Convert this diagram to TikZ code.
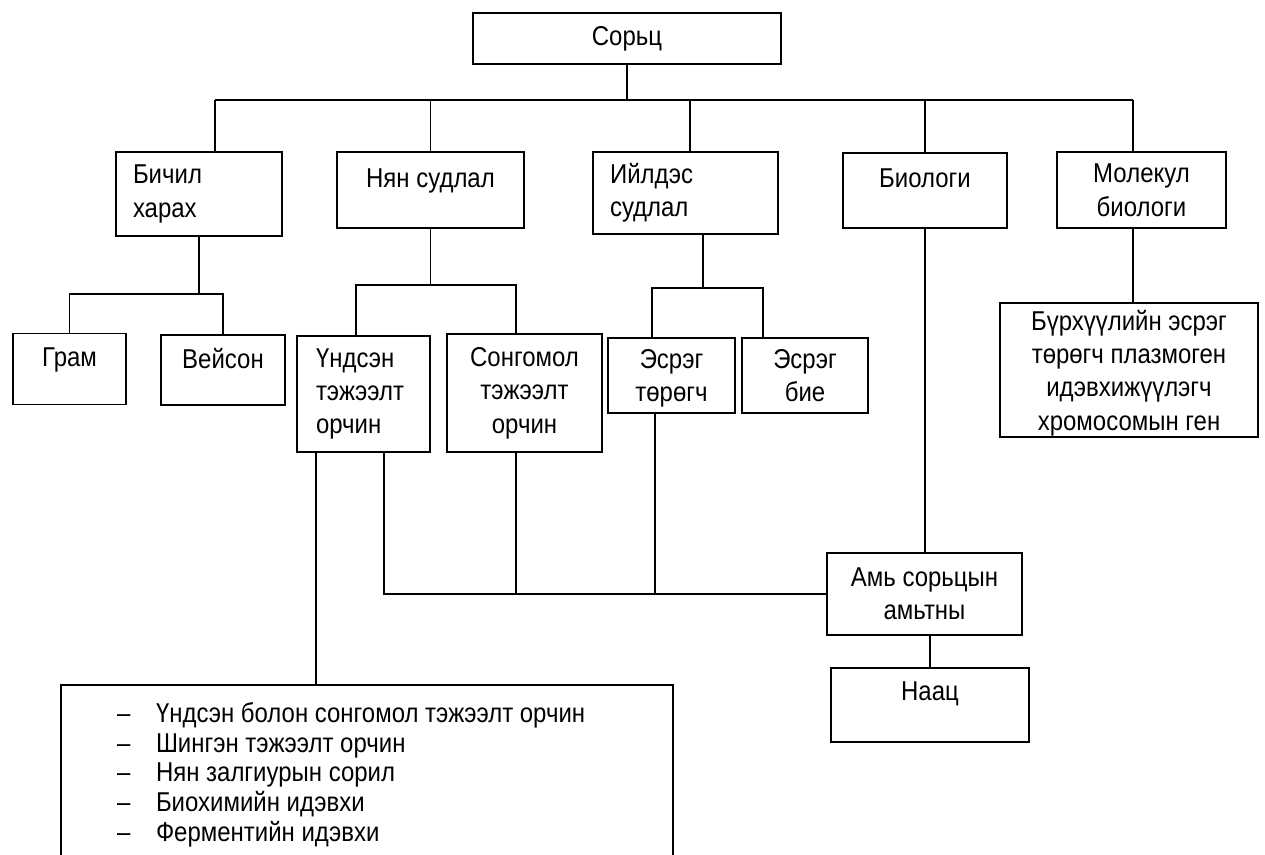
\documentclass[tikz,border=0pt]{standalone}
\usepackage{fontspec}
\setmainfont{Liberation Sans}[FakeStretch=0.88]
\begin{document}
\begin{tikzpicture}[x=0.02cm,y=-0.02cm,
 box/.style={draw,line width=0.9pt,inner sep=0pt,align=center,
  font=\fontsize{15.5}{19}\selectfont},
 lbox/.style={box,align=left,inner xsep=0.34cm},
 raised/.style={text depth=#1},raised/.default=14pt,
 link/.style={line width=0.9pt}]
\useasboundingbox (0,0) rectangle (1265,855);
\clip (0,0) rectangle (1265,855);
% Boxes, placed at pixel coordinates of the scan (y grows downward).
\node[box,minimum width=6.16cm,minimum height=1.02cm] (sorts) at (627,38.5) {Сорьц};
\node[lbox,text width=2.64cm,minimum height=1.68cm] (bichil) at (199,194) {Бичил\\харах};
\node[box,raised,minimum width=3.74cm,minimum height=1.52cm] (nyan) at (430.5,190) {Нян судлал};
\node[lbox,text width=3.02cm,minimum height=1.64cm] (iildes) at (685.5,193) {Ийлдэс\\судлал};
\node[box,raised,minimum width=3.28cm,minimum height=1.5cm] (biol) at (925,190.5) {Биологи};
\node[box,raised=-2pt,minimum width=3.38cm,minimum height=1.52cm] (molek) at (1141.5,190) {Молекул\\биологи};
\node[box,raised=13pt,minimum width=2.26cm,minimum height=1.42cm] (gram) at (69.5,369) {Грам};
\node[box,raised=13pt,minimum width=2.48cm,minimum height=1.4cm] (veison) at (223,370) {Вейсон};
\node[lbox,inner xsep=0.38cm,text width=1.9cm,minimum height=2.32cm] (undsen) at (363.5,394) {Үндсэн\\тэжээлт\\орчин};
\node[box,minimum width=3.1cm,minimum height=2.36cm] (songo) at (524.5,393) {Сонгомол\\тэжээлт\\орчин};
\node[box,raised=-2.5pt,minimum width=2.54cm,minimum height=1.5cm] (esreg1) at (671.5,375.5) {Эсрэг\\төрөгч};
\node[box,raised=-2.5pt,minimum width=2.52cm,minimum height=1.5cm] (esreg2) at (805,375.5) {Эсрэг\\бие};
\node[box,raised=-6pt,minimum width=5.16cm,minimum height=2.68cm] (burkh) at (1129,370)
 {Бүрхүүлийн эсрэг\\төрөгч плазмоген\\идэвхижүүлэгч\\хромосомын ген};
\node[box,minimum width=3.9cm,minimum height=1.64cm] (ami) at (924.5,594) {Амь сорьцын\\амьтны};
\node[box,raised=16pt,minimum width=3.96cm,minimum height=1.48cm] (naats) at (930,705) {Наац};
\node[box,anchor=north,align=flush left,inner xsep=1.12cm,text width=10cm,minimum height=3.6cm,
 font=\fontsize{15.5}{17}\selectfont] (tests) at (367,684)
 {\makebox[0.78cm][l]{–}Үндсэн болон сонгомол тэжээлт орчин\\
  \makebox[0.78cm][l]{–}Шингэн тэжээлт орчин\\
  \makebox[0.78cm][l]{–}Нян залгиурын сорил\\
  \makebox[0.78cm][l]{–}Биохимийн идэвхи\\
  \makebox[0.78cm][l]{–}Ферментийн идэвхи};
% Top bus
\coordinate (busL) at (215,100);
\coordinate (busR) at (1133,100);
\draw[link] (busL) -- (busR);
\draw[link] (sorts.south) -- (sorts.south |- busL);
\draw[link] (busL) -- (busL |- bichil.north);
\draw[link] (nyan.north) -- (nyan.north |- busL);
\draw[link] ([xshift=0.09cm]iildes.north) -- ([xshift=0.09cm]iildes.north |- busL);
\draw[link] (biol.north) -- (biol.north |- busL);
\draw[link] (busR) -- (busR |- molek.north);
% Second level buses
\coordinate (gbus) at (0,294);
\draw[link] (bichil.south) -- (bichil.south |- gbus);
\draw[link] (gram.north) |- (veison.north |- gbus) -- (veison.north);
\coordinate (nbus) at (0,285);
\draw[link] (nyan.south) -- (nyan.south |- nbus);
\draw[link] ([xshift=-0.15cm]undsen.north) |- ([xshift=-0.17cm]songo.north |- nbus)
 -- ([xshift=-0.17cm]songo.north);
\coordinate (ibus) at (0,288);
\draw[link] ([xshift=0.35cm]iildes.south) -- ([xshift=0.35cm]iildes.south |- ibus);
\draw[link] ([xshift=-0.39cm]esreg1.north) |- ([xshift=-0.84cm]esreg2.north |- ibus)
 -- ([xshift=-0.84cm]esreg2.north);
\draw[link] ([xshift=-0.17cm]molek.south) -- ([xshift=-0.17cm]molek.south |- burkh.north);
% Lower part
\draw[link] (biol.south) -- (biol.south |- ami.north);
\draw[link] (naats.north) -- (naats.north |- ami.south);
\draw[link] (ami.west) -| ([xshift=0.41cm]undsen.south);
\draw[link] ([xshift=-0.17cm]songo.south) -- ([xshift=-0.17cm]songo.south |- ami.west);
\draw[link] ([xshift=-0.33cm]esreg1.south) -- ([xshift=-0.33cm]esreg1.south |- ami.west);
\draw[link] ([xshift=-0.95cm]undsen.south) -- ([xshift=-0.95cm]undsen.south |- tests.north);
\end{tikzpicture}
\end{document}
